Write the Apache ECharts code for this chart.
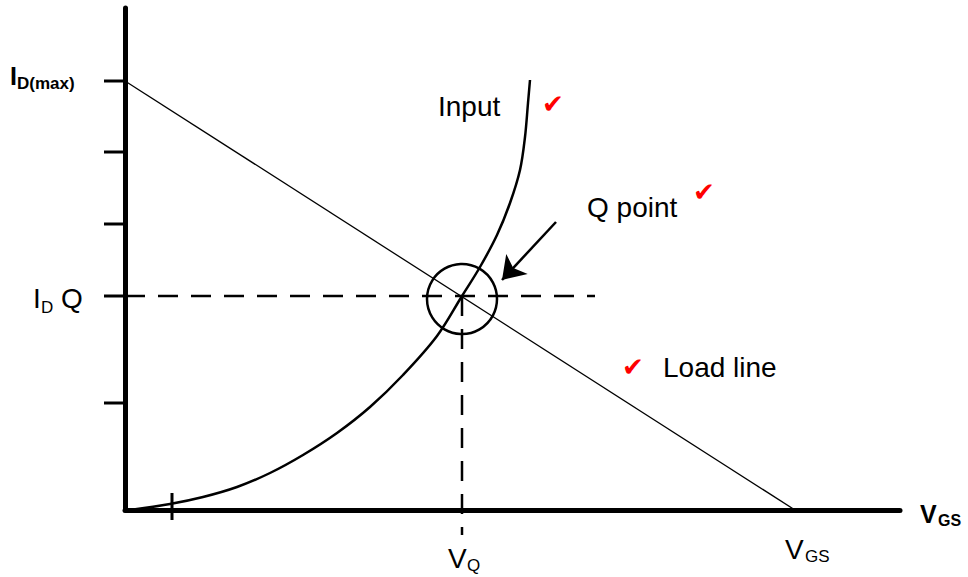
<!DOCTYPE html>
<html>
<head>
<meta charset="utf-8">
<script src="https://cdn.jsdelivr.net/npm/echarts@6/dist/echarts.min.js"></script>
<style>
  html, body { margin: 0; padding: 0; background: #fff; }
  #chart { width: 968px; height: 577px; }
</style>
</head>
<body>
<div id="chart"></div>
<script>
// transfer characteristic + load line, values in axis units
const inputCurve = [
  [5, 0], [45, 6], [78, 13], [112, 23], [145, 37], [178, 55], [212, 77],
  [245, 103], [278, 135], [312, 174], [337, 214], [355, 243], [372, 275],
  [385, 307], [395, 340], [400, 373], [403, 407], [405, 430]
];
const loadLine = [[0, 429], [670, 0]];
const qCircle = [337, 211];
const qRadius = 35;
const arrowLine = [[431, 288], [377, 230]];
const yTicks = [429, 358, 286, 214, 107];
const xTicks = [47];
const hDash = [[0, 214], [470, 214]];
const vDash = [[337, 214], [337, -25]];

const FONT = '"Liberation Sans", Arial, sans-serif';
const chart = echarts.init(document.getElementById('chart'), null, { renderer: 'svg' });

function txt(text, x, y, size, bold, color) {
  return {
    type: 'text', x: x, y: y, z: 100,
    style: {
      text: text,
      font: (bold ? 'bold ' : '') + size + 'px ' + FONT,
      fill: color || '#000',
      align: 'left',
      verticalAlign: 'middle'
    }
  };
}
function check(x, y) {
  return {
    type: 'text', x: x, y: y, z: 100,
    style: { text: '\u2714', font: '26px "DejaVu Sans"', fill: '#ff0000', align: 'center', verticalAlign: 'middle' }
  };
}

const option = {
  animation: false,
  backgroundColor: '#fff',
  grid: { left: 125, top: 8, width: 775, height: 502 },
  xAxis: {
    type: 'value', min: 0, max: 775,
    axisLine: { lineStyle: { color: '#000', width: 5, cap: 'round' } },
    axisTick: { show: false }, axisLabel: { show: false }, splitLine: { show: false }
  },
  yAxis: {
    type: 'value', min: 0, max: 502,
    axisLine: { show: true, lineStyle: { color: '#000', width: 5, cap: 'round' } },
    axisTick: { show: false }, axisLabel: { show: false }, splitLine: { show: false }
  },
  series: [
    {
      name: 'Load line', type: 'line', data: loadLine, symbol: 'none', clip: false,
      lineStyle: { color: '#000', width: 1.3 }
    },
    {
      name: 'Input', type: 'line', data: inputCurve, symbol: 'none', smooth: 0.35, clip: false,
      lineStyle: { color: '#000', width: 2.5 }
    },
    {
      name: 'IDQ', type: 'line', data: hDash, symbol: 'none', clip: false,
      lineStyle: { color: '#000', width: 2.5, type: [20, 13] }
    },
    {
      name: 'VQ', type: 'line', data: vDash, symbol: 'none', clip: false,
      lineStyle: { color: '#000', width: 2.5, type: [20, 13] }
    },
    {
      name: 'ticks', type: 'custom', clip: false,
      data: yTicks.map(v => [0, v, 0]).concat(xTicks.map(v => [v, 0, 1])),
      renderItem: function (params, api) {
        const p = api.coord([api.value(0), api.value(1)]);
        const isX = api.value(2) === 1;
        const shape = isX
          ? { x1: p[0], y1: p[1] - 17, x2: p[0], y2: p[1] + 10 }
          : { x1: p[0] - 21, y1: p[1], x2: p[0], y2: p[1] };
        return { type: 'line', shape: shape, style: { stroke: '#000', lineWidth: 3 } };
      }
    },
    {
      name: 'Q point', type: 'custom', clip: false,
      data: [qCircle.concat([qRadius])],
      renderItem: function (params, api) {
        const c = api.coord([api.value(0), api.value(1)]);
        const r = api.size([api.value(2), 0])[0];
        return { type: 'circle', shape: { cx: c[0], cy: c[1], r: r }, style: { fill: 'none', stroke: '#000', lineWidth: 2.5 } };
      }
    },
    {
      name: 'arrow', type: 'lines', coordinateSystem: 'cartesian2d',
      data: [{ coords: arrowLine }],
      symbol: ['none', 'arrow'], symbolSize: [14, 22],
      lineStyle: { color: '#000', width: 2.5, opacity: 1 }
    }
  ],
  graphic: [
    txt('I', 10, 76, 25, true),
    txt('D(max)', 17, 83, 17, true),
    txt('I', 33, 298, 28),
    txt('D', 41, 307, 17),
    txt('Q', 61, 298, 28),
    txt('V', 448, 558, 28),
    txt('Q', 467, 565, 17),
    txt('V', 785, 549, 28),
    txt('GS', 805, 556, 17),
    txt('V', 920, 514, 25, true),
    txt('GS', 938, 520, 16, true),
    txt('Input', 438, 106, 28),
    txt('Q point', 587, 207, 28),
    txt('Load line', 663, 367, 28),
    check(553, 104),
    check(704, 192),
    check(633, 367)
  ]
};
chart.setOption(option);
</script>
</body>
</html>
